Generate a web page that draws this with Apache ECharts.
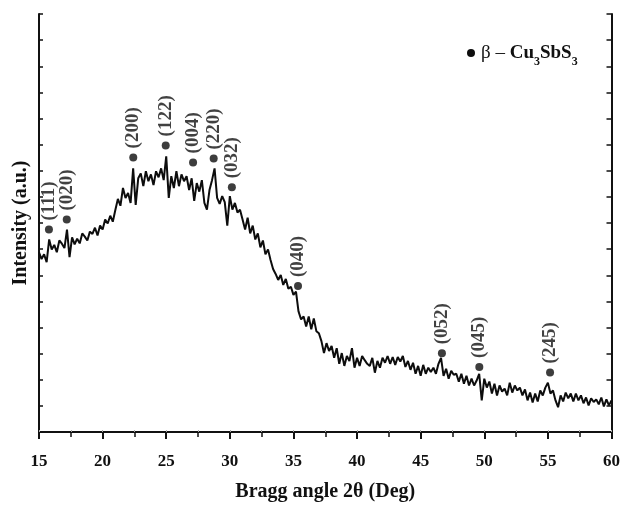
<!DOCTYPE html>
<html>
<head>
<meta charset="utf-8">
<script src="https://cdn.jsdelivr.net/npm/echarts@6/dist/echarts.min.js"></script>
<style>
  html, body { margin: 0; padding: 0; background: #fff; }
  #chart { width: 623px; height: 507px; }
</style>
</head>
<body>
<div id="chart"></div>
<script>
// XRD scan of the β-Cu3SbS3 film: 2θ from 15° to 60°, step 0.2°
const START_ANGLE = 15;
const STEP = 0.2;

// Intensity (a.u.), one row per degree (5 readings each), last value at 60°
const intensity = [
  688, 662, 680, 650, 737,   // 15
  699, 716, 688, 733, 721,   // 16
  704, 775, 669, 745, 718,   // 17
  740, 722, 760, 748, 733,   // 18
  767, 758, 782, 752, 790,   // 19
  775, 813, 798, 828, 805,   // 20
  850, 892, 866, 934, 896,   // 21
  915, 877, 1009, 869, 971,  // 22
  990, 941, 998, 960, 986,   // 23
  945, 998, 975, 1009, 964,  // 24
  1055, 896, 979, 934, 998,  // 25
  941, 986, 960, 979, 926,   // 26
  971, 885, 953, 920, 964,   // 27
  877, 851, 926, 964, 1009,  // 28
  896, 873, 903, 880, 790,   // 29
  903, 851, 877, 840, 851,   // 30
  813, 775, 820, 760, 790,   // 31
  737, 760, 707, 733, 680,   // 32
  699, 658, 624, 605, 582,   // 33
  601, 563, 586, 548, 556,   // 34
  525, 537, 461, 431, 442,   // 35
  404, 442, 393, 435, 386,   // 36
  378, 348, 302, 340, 310,   // 37
  329, 284, 321, 261, 302,   // 38
  253, 291, 272, 321, 246,   // 39
  284, 253, 291, 275, 261,   // 40
  253, 284, 227, 272, 246,   // 41
  284, 265, 291, 261, 287,   // 42
  257, 287, 270, 291, 249,   // 43
  272, 238, 265, 223, 253,   // 44
  215, 257, 223, 246, 230,   // 45
  246, 223, 261, 284, 215,   // 46
  242, 204, 234, 219, 223,   // 47
  193, 223, 185, 215, 178,   // 48
  204, 178, 197, 223, 121,   // 49
  204, 170, 193, 147, 185,   // 50
  140, 178, 155, 166, 140,   // 51
  189, 151, 178, 159, 170,   // 52
  140, 163, 121, 151, 113,   // 53
  147, 117, 159, 140, 170,   // 54
  189, 147, 159, 121, 95,    // 55
  140, 117, 151, 129, 147,   // 56
  117, 147, 121, 140, 110,   // 57
  132, 102, 129, 115, 125,   // 58
  106, 132, 98, 125, 102,    // 59
  121                        // 60
];

// Indexed reflections of β-Cu3SbS3: (hkl), 2θ and marker height
const peakLabels = ['(111)', '(020)', '(200)', '(122)', '(004)', '(220)', '(032)', '(040)', '(052)', '(045)', '(245)'];
const peakAngles = [15.78, 17.18, 22.41, 24.96, 27.11, 28.73, 30.16, 35.36, 46.67, 49.61, 55.17];
const peakHeights = [775, 813, 1051, 1097, 1032, 1047, 937, 559, 301, 249, 228];

const xTicks = [15, 20, 25, 30, 35, 40, 45, 50, 55, 60];

const scan = intensity.map((v, i) => [+(START_ANGLE + i * STEP).toFixed(1), v]);
const peaks = peakAngles.map((a, i) => ({ value: [a, peakHeights[i]], name: peakLabels[i] }));

const FONT = '"Liberation Serif", "Times New Roman", serif';
const INK = '#111111';

const chart = echarts.init(document.getElementById('chart'), null, { renderer: 'canvas' });

chart.setOption({
  backgroundColor: '#ffffff',
  animation: false,
  grid: { left: 39, right: 7, top: 14, bottom: 70, containLabel: false },
  xAxis: [
    {
      type: 'value',
      position: 'bottom',
      min: xTicks[0],
      max: xTicks[xTicks.length - 1],
      interval: 5,
      name: 'Bragg angle 2θ (Deg)',
      nameLocation: 'middle',
      nameGap: 50,
      nameTextStyle: { fontFamily: FONT, fontWeight: 'bold', fontSize: 20, color: INK },
      axisLine: { show: true, lineStyle: { color: INK, width: 2 } },
      axisTick: { show: true, inside: false, length: 7, lineStyle: { color: INK, width: 2 } },
      minorTick: { show: true, splitNumber: 2, length: 5, lineStyle: { color: INK, width: 1.5 } },
      axisLabel: { margin: 21, fontFamily: FONT, fontWeight: 'bold', fontSize: 17, color: INK },
      splitLine: { show: false }
    },
    {
      type: 'value',
      position: 'top',
      min: xTicks[0],
      max: xTicks[xTicks.length - 1],
      interval: 2.5,
      axisLine: { show: true, lineStyle: { color: INK, width: 2 } },
      axisTick: { show: true, inside: false, length: 2, lineStyle: { color: '#aaaaaa', width: 1 } },
      axisLabel: { show: false },
      splitLine: { show: false }
    }
  ],
  yAxis: [
    {
      type: 'value',
      position: 'left',
      min: 0,
      max: 1600,
      interval: 100,
      name: 'Intensity (a.u.)',
      nameLocation: 'middle',
      nameGap: 8,
      nameTextStyle: { fontFamily: FONT, fontWeight: 'bold', fontSize: 20, color: INK },
      axisLine: { show: true, lineStyle: { color: INK, width: 2 } },
      axisTick: { show: true, inside: true, length: 4, lineStyle: { color: INK, width: 1.5 } },
      axisLabel: { show: false },
      splitLine: { show: false }
    },
    {
      type: 'value',
      position: 'right',
      min: 0,
      max: 1600,
      interval: 100,
      axisLine: { show: true, lineStyle: { color: INK, width: 2 } },
      axisTick: { show: true, inside: true, length: 5, lineStyle: { color: INK, width: 1.5 } },
      axisLabel: { show: false },
      splitLine: { show: false }
    }
  ],
  series: [
    {
      type: 'line',
      xAxisIndex: 0,
      yAxisIndex: 0,
      data: scan,
      showSymbol: false,
      symbol: 'none',
      smooth: false,
      lineStyle: { color: '#0d0d0d', width: 2 },
      z: 2
    },
    {
      type: 'scatter',
      xAxisIndex: 0,
      yAxisIndex: 0,
      data: peaks,
      symbol: 'circle',
      symbolSize: 8,
      itemStyle: { color: '#0d0d0d' },
      label: {
        show: true,
        position: 'top',
        distance: 5,
        rotate: 90,
        align: 'left',
        verticalAlign: 'middle',
        formatter: p => p.name,
        fontFamily: FONT,
        fontWeight: 'bold',
        fontSize: 19,
        color: INK
      },
      z: 3
    }
  ],
  graphic: [
    {
      type: 'circle',
      shape: { cx: 471, cy: 53, r: 4 },
      style: { fill: '#0d0d0d' }
    },
    {
      type: 'text',
      left: 481,
      top: 44,
      style: {
        text: '{n|β – }{b|Cu}{s|3}{b|SbS}{s|3}',
        rich: {
          n: { fontFamily: FONT, fontSize: 19, fontWeight: 'normal', fill: INK, lineHeight: 22, verticalAlign: 'top' },
          b: { fontFamily: FONT, fontSize: 19, fontWeight: 'bold', fill: INK, lineHeight: 22, verticalAlign: 'top' },
          s: { fontFamily: FONT, fontSize: 12, fontWeight: 'bold', fill: INK, lineHeight: 12, padding: [12, 0, 0, 0], verticalAlign: 'top' }
        }
      }
    }
  ]
});
</script>
</body>
</html>
